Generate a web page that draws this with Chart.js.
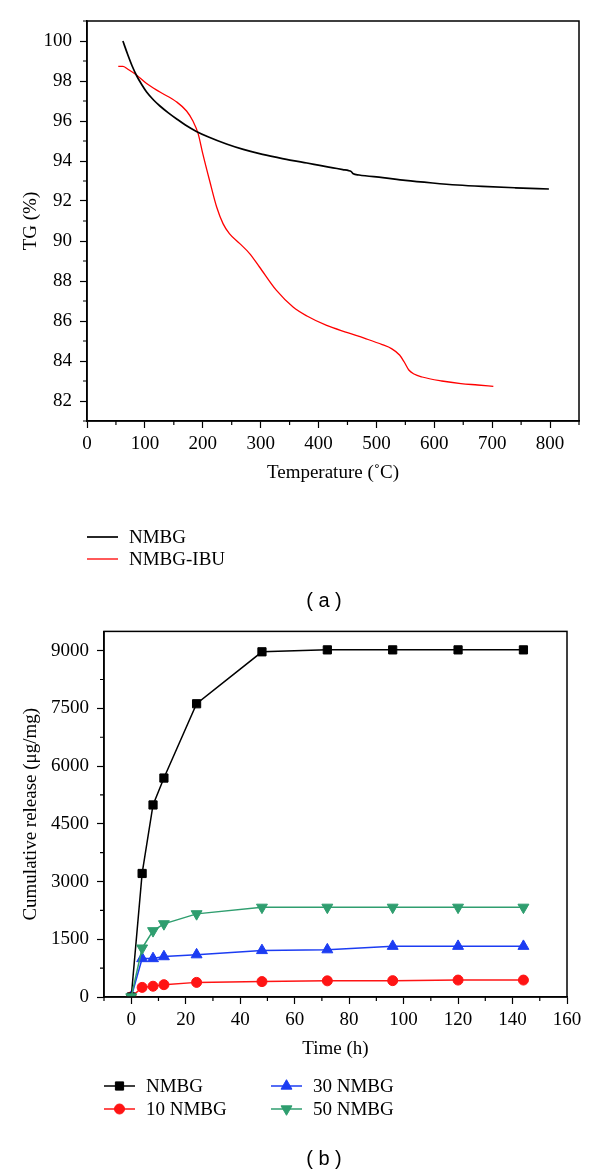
<!DOCTYPE html>
<html>
<head>
<meta charset="utf-8">
<title>TG and release</title>
<script src="https://cdn.jsdelivr.net/npm/chart.js@4/dist/chart.umd.min.js"></script>
<style>
  body { margin: 0; background: #fff; }
  #page { position: relative; width: 600px; height: 1175px; }
  canvas { position: absolute; left: 0; }
  .cap { position: absolute; transform: translate(-50%, -50%); font: 20px 'Liberation Sans', Arial, sans-serif; color: #000; white-space: pre; }
</style>
</head>
<body>
<div id="page">
  <canvas id="tg" width="600" height="612" style="top:0"></canvas>
  <canvas id="rel" width="600" height="563" style="top:612px"></canvas>
  <div class="cap" style="left:324px; top:600px">( a )</div>
  <div class="cap" style="left:324px; top:1158px">( b )</div>
</div>
<script type="text/javascript">
// ---- (a) TG curves ----
var tempNMBG = [62, 70, 78, 86, 95, 103, 115, 126, 140, 155, 170, 189, 210, 241, 270, 298, 330, 356, 380, 402, 425, 442, 452, 456, 460, 470, 511, 550, 597, 640, 683, 740, 798];
var tgNMBG   = [100.0, 99.35, 98.75, 98.25, 97.8, 97.45, 97.05, 96.75, 96.42, 96.1, 95.8, 95.48, 95.2, 94.85, 94.58, 94.37, 94.17, 94.02, 93.9, 93.78, 93.66, 93.57, 93.52, 93.48, 93.36, 93.3, 93.17, 93.03, 92.9, 92.8, 92.73, 92.66, 92.6];
var tempIBU  = [54, 62, 70, 86, 103, 126, 155, 172, 183, 192, 200, 212, 224, 235, 246, 264, 281, 298, 327, 356, 380, 414, 450, 480, 510, 526, 540, 548, 556, 565, 579, 613, 646, 675, 702];
var tgIBU    = [98.73, 98.73, 98.6, 98.29, 97.87, 97.45, 96.95, 96.5, 96.0, 95.37, 94.37, 93.0, 91.7, 90.87, 90.37, 89.87, 89.37, 88.7, 87.54, 86.7, 86.25, 85.78, 85.42, 85.13, 84.82, 84.62, 84.3, 83.95, 83.55, 83.35, 83.2, 83.0, 82.87, 82.8, 82.73];
var tempTicks  = [0, 100, 200, 300, 400, 500, 600, 700, 800];
var tempMinor  = [50, 150, 250, 350, 450, 550, 650, 750, 850];
var tgTicks    = [82, 84, 86, 88, 90, 92, 94, 96, 98, 100];
var tgMinor    = [81, 83, 85, 87, 89, 91, 93, 95, 97, 99, 101];

// ---- (b) cumulative release ----
var hours     = [0, 4, 8, 12, 24, 48, 72, 96, 120, 144];
var relNMBG   = [0, 3210, 4990, 5690, 7620, 8970, 9020, 9020, 9020, 9020];
var rel10     = [0, 250, 280, 320, 380, 400, 420, 425, 440, 440];
var rel30     = [0, 1000, 1000, 1050, 1100, 1210, 1230, 1320, 1320, 1320];
var rel50     = [0, 1270, 1720, 1900, 2160, 2330, 2330, 2330, 2330, 2330];
var hourTicks = [0, 20, 40, 60, 80, 100, 120, 140, 160];
var hourMinor = [-10, 10, 30, 50, 70, 90, 110, 130, 150];
var relTicks  = [0, 1500, 3000, 4500, 6000, 7500, 9000];
var relMinor  = [750, 2250, 3750, 5250, 6750, 8250];

var serif = "'Liberation Serif', 'Times New Roman', serif";
Chart.defaults.font.family = serif;
Chart.defaults.color = '#000';

function pts(xs, ys) {
    return xs.map(function(x, i) { return {x: x, y: ys[i]}; });
}

// frame, minor ticks and the hand-placed legend
var extras = {
    id: 'extras',
    afterDraw: function(chart, args, o) {
        var ctx = chart.ctx, a = chart.chartArea, sx = chart.scales.x, sy = chart.scales.y;
        ctx.save();
        ctx.strokeStyle = '#000';
        ctx.lineWidth = 1.2;
        ctx.beginPath();
        o.xMinor.forEach(function(v) {
            var p = sx.getPixelForValue(v);
            ctx.moveTo(p, a.bottom); ctx.lineTo(p, a.bottom + 4);
        });
        o.yMinor.forEach(function(v) {
            var p = sy.getPixelForValue(v);
            ctx.moveTo(a.left - 4, p); ctx.lineTo(a.left, p);
        });
        ctx.stroke();
        ctx.lineWidth = 1.5;
        ctx.strokeRect(a.left, a.top, a.right - a.left, a.bottom - a.top);

        // legend
        ctx.font = '19px ' + serif;
        ctx.textBaseline = 'middle';
        ctx.textAlign = 'left';
        chart.data.datasets.forEach(function(ds, i) {
            var x = a.left + o.legend[i][0], y = a.bottom + o.legend[i][1];
            ctx.strokeStyle = ds.borderColor;
            ctx.lineWidth = ds.borderWidth;
            ctx.beginPath(); ctx.moveTo(x, y); ctx.lineTo(x + 31, y); ctx.stroke();
            if (ds.pointRadius > 0) {
                ctx.fillStyle = ds.borderColor;
                ctx.lineWidth = 1;
                Chart.helpers.drawPoint(ctx, {pointStyle: ds.pointStyle, radius: ds.pointRadius, rotation: ds.pointRotation || 0, borderWidth: 1}, x + 15.5, y);
            }
            ctx.fillStyle = '#000';
            ctx.fillText(ds.label, x + 42, y + 1);
        });
        ctx.restore();
    }
};

function axisX(min, max, ticks, title) {
    return {
        type: 'linear', min: min, max: max,
        afterBuildTicks: function(s) { s.ticks = ticks.map(function(v) { return {value: v}; }); },
        afterFit: function(s) { s.height = 70; },
        grid: { drawOnChartArea: false, drawTicks: true, tickLength: 7, tickColor: '#000', tickWidth: 1.2 },
        border: { display: true, color: '#000', width: 1.5 },
        ticks: { color: '#000', font: { size: 19 }, padding: 5, maxRotation: 0, autoSkip: false, callback: function(v) { return String(v); } },
        title: { display: true, text: title, color: '#000', font: { size: 19 }, padding: { top: 0, bottom: 7 } }
    };
}
function axisY(min, max, ticks, title, w) {
    return {
        type: 'linear', min: min, max: max,
        afterBuildTicks: function(s) { s.ticks = ticks.map(function(v) { return {value: v}; }); },
        afterFit: function(s) { s.width = w; },
        grid: { drawOnChartArea: false, drawTicks: true, tickLength: 7, tickColor: '#000', tickWidth: 1.2 },
        border: { display: true, color: '#000', width: 1.5 },
        ticks: { color: '#000', font: { size: 19 }, padding: 8, autoSkip: false, callback: function(v) { return String(v); } },
        title: { display: true, text: title, color: '#000', font: { size: 19 }, padding: { top: 20, bottom: 0 } }
    };
}

new Chart(document.getElementById('tg').getContext('2d'), {
    type: 'line',
    data: {
        datasets: [
            { label: 'NMBG', data: pts(tempNMBG, tgNMBG), borderColor: '#000', borderWidth: 1.7, pointRadius: 0, cubicInterpolationMode: 'monotone' },
            { label: 'NMBG-IBU', data: pts(tempIBU, tgIBU), borderColor: '#ff0000', borderWidth: 1.3, pointRadius: 0, cubicInterpolationMode: 'monotone' }
        ]
    },
    options: {
        responsive: false,
        animation: false,
        layout: { padding: { top: 21, right: 21, bottom: 121, left: 0 } },
        plugins: {
            legend: { display: false },
            tooltip: { enabled: false },
            extras: { xMinor: tempMinor, yMinor: tgMinor, legend: [[0, 116], [0, 138]] }
        },
        scales: {
            x: axisX(0, 850, tempTicks, 'Temperature (˚C)'),
            y: axisY(81, 101, tgTicks, 'TG (%)', 87)
        }
    },
    plugins: [extras]
});

new Chart(document.getElementById('rel').getContext('2d'), {
    type: 'line',
    data: {
        datasets: [
            { label: 'NMBG', data: pts(hours, relNMBG), borderColor: '#000', backgroundColor: '#000', borderWidth: 1.5, pointStyle: 'rect', pointRadius: 5.8, pointBorderWidth: 1, order: 1 },
            { label: '10 NMBG', data: pts(hours, rel10), borderColor: '#ff1414', backgroundColor: '#ff1414', borderWidth: 1.5, pointStyle: 'circle', pointRadius: 5, pointBorderWidth: 1, order: 3 },
            { label: '30 NMBG', data: pts(hours, rel30), borderColor: '#1c3cf2', backgroundColor: '#1c3cf2', borderWidth: 1.5, pointStyle: 'triangle', pointRadius: 6.3, pointBorderWidth: 1, order: 2 },
            { label: '50 NMBG', data: pts(hours, rel50), borderColor: '#2f9e6f', backgroundColor: '#2f9e6f', borderWidth: 1.5, pointStyle: 'triangle', pointRotation: 180, pointRadius: 6.3, pointBorderWidth: 1, order: 0 }
        ]
    },
    options: {
        responsive: false,
        animation: false,
        layout: { padding: { top: 10, right: 33, bottom: 108, left: 0 } },
        plugins: {
            legend: { display: false },
            tooltip: { enabled: false },
            extras: { xMinor: hourMinor, yMinor: relMinor, legend: [[0, 89], [0, 112], [167, 89], [167, 112]] }
        },
        scales: {
            x: axisX(-10, 160, hourTicks, 'Time (h)'),
            y: axisY(0, 9500, relTicks, 'Cumulative release (μg/mg)', 104)
        }
    },
    plugins: [extras]
});
</script>
</body>
</html>
